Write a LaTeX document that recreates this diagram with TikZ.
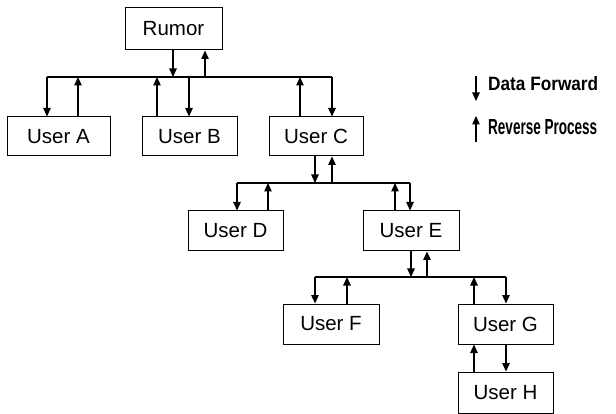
\documentclass[tikz,border=0pt]{standalone}
\usepackage{fontspec}
\setmainfont{Liberation Sans}
\usetikzlibrary{arrows.meta}
\begin{document}
\begin{tikzpicture}[x=1pt,y=-1pt,
  box/.style={draw,line width=1pt,inner sep=0pt,minimum width=95pt,minimum height=40pt,font=\fontsize{20.5}{24}\selectfont},
  arr/.style={line width=1.1pt,-{Triangle[length=8.5pt,width=7.5pt]}},
  bus/.style={line width=1.1pt},
  leg/.style={anchor=base west,inner sep=0pt,font=\bfseries\fontsize{18}{20}\selectfont}]
\useasboundingbox (0,0) rectangle (616,414);
% boxes
\node[box,minimum width=97pt,minimum height=42pt] (rumor) at (173.5,29) {Rumor};
\node[box,minimum width=103pt,minimum height=39pt] (a) at (58.5,136.5) {User A};
\node[box,minimum height=39pt] (b) at (189.5,136.5) {User B};
\node[box,minimum width=94pt,minimum height=39pt] (c) at (316,136.5) {User C};
\node[box] (d) at (235.5,231) {User D};
\node[box,minimum width=96pt] (e) at (411,231) {User E};
\node[box,minimum width=96pt] (f) at (331,324) {User F};
\node[box] (g) at (505.5,324) {User G};
\node[box,minimum height=41pt] (h) at (505.5,392.5) {User H};
% bus 1
\coordinate (r1) at (173,77); \coordinate (r2) at (205,77);
\coordinate (a1) at (47,77);  \coordinate (a2) at (78,77);
\coordinate (b2) at (157,77); \coordinate (b1) at (189,77);
\coordinate (c2) at (300,77); \coordinate (c1) at (332,77);
\draw[bus] (a1) -- (c1);
\draw[arr] (r1 |- rumor.south) -- (r1);
\draw[arr] (r2) -- (r2 |- rumor.south);
\draw[arr] (a1) -- (a1 |- a.north);
\draw[arr] (a2 |- a.north) -- (a2);
\draw[arr] (b2 |- b.north) -- (b2);
\draw[arr] (b1) -- (b1 |- b.north);
\draw[arr] (c2 |- c.north) -- (c2);
\draw[arr] (c1) -- (c1 |- c.north);
% bus 2
\coordinate (cd) at (315,183); \coordinate (cu) at (332,183);
\coordinate (d1) at (237,183); \coordinate (d2) at (268,183);
\coordinate (e2) at (395,183); \coordinate (e1) at (410,183);
\draw[bus] (d1) -- (e1);
\draw[arr] (cd |- c.south) -- (cd);
\draw[arr] (cu) -- (cu |- c.south);
\draw[arr] (d1) -- (d1 |- d.north);
\draw[arr] (d2 |- d.north) -- (d2);
\draw[arr] (e2 |- e.north) -- (e2);
\draw[arr] (e1) -- (e1 |- e.north);
% bus 3
\coordinate (ed) at (411,277); \coordinate (eu) at (427,277);
\coordinate (f1) at (315,277); \coordinate (f2) at (347,277);
\coordinate (g2) at (474,277); \coordinate (g1) at (506,277);
\draw[bus] (f1) -- (g1);
\draw[arr] (ed |- e.south) -- (ed);
\draw[arr] (eu) -- (eu |- e.south);
\draw[arr] (f1) -- (f1 |- f.north);
\draw[arr] (f2 |- f.north) -- (f2);
\draw[arr] (g2 |- g.north) -- (g2);
\draw[arr] (g1) -- (g1 |- g.north);
% G - H
\coordinate (hu) at (474,0); \coordinate (hd) at (506,0);
\draw[arr] (hu |- h.north) -- (hu |- g.south);
\draw[arr] (hd |- g.south) -- (hd |- h.north);
% legend
\node[leg] (fwd) at (488,91) {\resizebox{110pt}{14pt}{Data Forward}};
\node[leg] (rev) at (488,135) {\resizebox{109pt}{15pt}{Reverse Process}};
\coordinate (l1) at (476,76); \coordinate (l2) at (476,101);
\coordinate (l3) at (476,142); \coordinate (l4) at (476,116);
\draw[arr] (l1) -- (l2);
\draw[arr] (l3) -- (l4);
\end{tikzpicture}
\end{document}
